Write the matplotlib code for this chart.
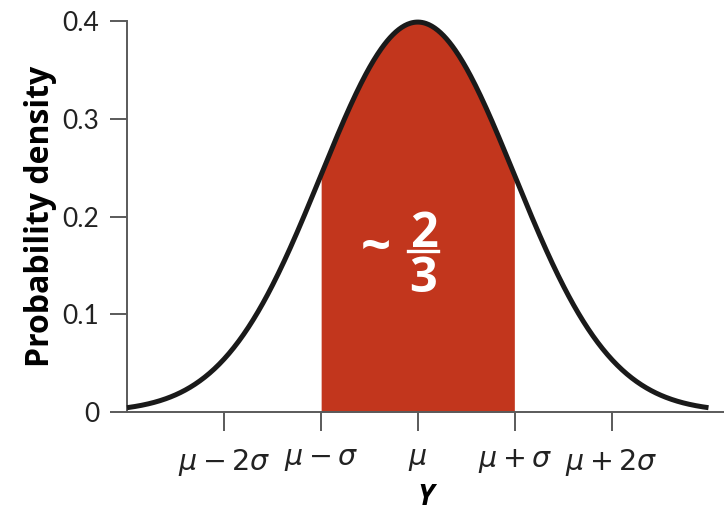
import numpy as np
import matplotlib.pyplot as plt

plt.rcParams['font.family'] = ['Lato', 'DejaVu Sans']
plt.rcParams['mathtext.fontset'] = 'dejavusans'

# standard normal, in units of sigma
x_min, x_max = -3.0, 3.0
shade_lo, shade_hi = -1.0, 1.0
xtick_pos = [-2, -1, 0, 1, 2]
xtick_labels = [r'$\mu-2\sigma$', r'$\mu-\sigma$', r'$\mu$', r'$\mu+\sigma$', r'$\mu+2\sigma$']
ytick_pos = [0, 0.1, 0.2, 0.3, 0.4]
ytick_labels = ['0', '0.1', '0.2', '0.3', '0.4']

red = '#c2361d'
grey = '#5a5a5a'
bold_font = ['Open Sans', 'DejaVu Sans']

x = np.linspace(x_min, x_max, 600)
pdf = np.exp(-x**2 / 2) / np.sqrt(2 * np.pi)

fig = plt.figure(figsize=(7.24, 5.3), dpi=100)
ax = fig.add_axes([0.1754, 0.2226, 0.8246, 0.7377])

mask = (x >= shade_lo) & (x <= shade_hi)
ax.fill_between(x[mask], 0, pdf[mask], color=red, lw=0, zorder=1)
ax.plot(x, pdf, color='#1a1a1a', lw=3.6, solid_capstyle='butt', clip_on=False, zorder=3)

ax.set_xlim(-3.0, 3.16)
ax.set_ylim(0, 0.4)

for s in ['top', 'right']:
    ax.spines[s].set_visible(False)
for s in ['left', 'bottom']:
    ax.spines[s].set_color(grey)
    ax.spines[s].set_linewidth(1.4)

ax.set_xticks(xtick_pos)
ax.set_xticklabels(xtick_labels, fontsize=20.5)
ax.set_yticks(ytick_pos)
ax.set_yticklabels(ytick_labels, fontsize=19)
ax.tick_params(axis='x', length=14, width=1.4, color=grey, pad=11, labelcolor='#222222')
ax.tick_params(axis='y', length=12, width=1.4, color=grey, pad=8, labelcolor='#222222')

ax.set_ylabel('Probability density', fontsize=23, fontweight='bold', family=bold_font, labelpad=4)
ax.set_xlabel('Y', fontsize=21, fontweight='bold', style='italic', family=bold_font, labelpad=4)

# ~ 2/3 label
ax.text(-0.43, 0.166, '~', color='white', fontsize=38, fontweight='bold', family=bold_font, ha='center', va='center')
ax.text(0.06, 0.169, '2', color='white', fontsize=35, fontweight='bold', family=bold_font, ha='center', va='baseline')
ax.text(0.06, 0.123, '3', color='white', fontsize=35, fontweight='bold', family=bold_font, ha='center', va='baseline')
ax.plot([-0.10, 0.21], [0.1647, 0.1647], color='white', lw=2.4)

fig.savefig('out.png', dpi=100)
